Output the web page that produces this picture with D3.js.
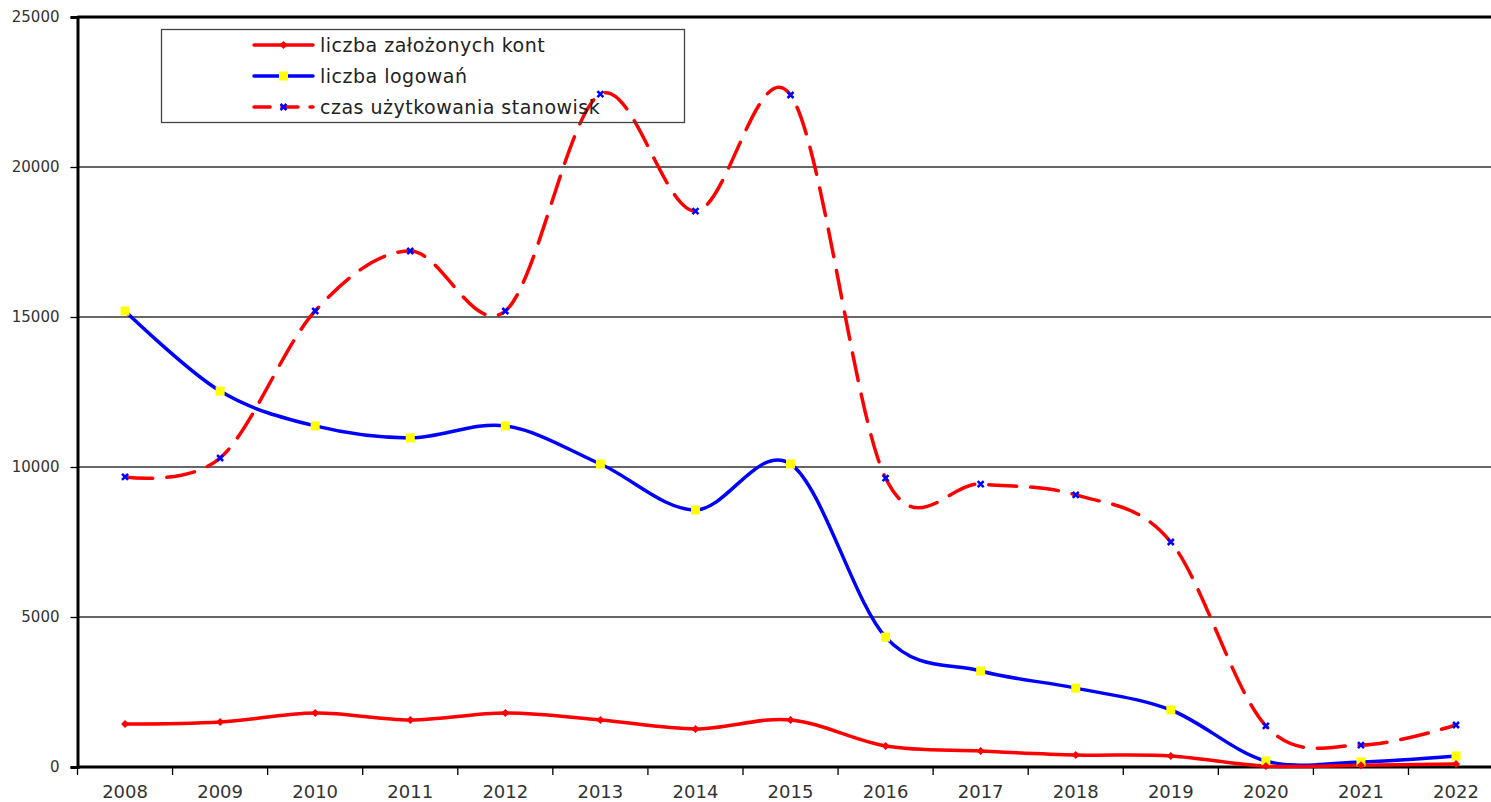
<!DOCTYPE html>
<html>
<head>
<meta charset="utf-8">
<script src="https://cdn.jsdelivr.net/npm/d3@7"></script>
<style>
  body { margin: 0; background: #fff; }
  svg { display: block; }
  .ytick_label { font-family: "DejaVu Sans", Verdana, sans-serif; font-size: 15px; fill: #333; }
  .xtick_label { font-family: "DejaVu Sans", Verdana, sans-serif; font-size: 18px; fill: #333; }
  .legend_label { font-family: "DejaVu Sans", Verdana, sans-serif; font-size: 19px; fill: #222; letter-spacing: 0.5px; }
</style>
</head>
<body>
<svg width="1491" height="802"></svg>
<script>
var years = ["2008", "2009", "2010", "2011", "2012", "2013", "2014", "2015",
	"2016", "2017", "2018", "2019", "2020", "2021", "2022"];

var kontValues = [1430, 1500, 1800, 1570, 1800, 1570, 1270, 1570, 700, 530, 400, 370, 30, 60, 100];
var logowaniaValues = [15200, 12530, 11370, 10970, 11370, 10100, 8570, 10100, 4330, 3200, 2630, 1900, 200, 170, 370];
var czasValues = [9670, 10300, 15200, 17200, 15200, 22430, 18530, 22400, 9630, 9430, 9070, 7500, 1370, 730, 1400];

var yTicks = [0, 5000, 10000, 15000, 20000, 25000];

var seriesNames = ["liczba założonych kont", "liczba logowań", "czas użytkowania stanowisk"];

var svg = d3.select("svg");

var plotLeft = 77.5, plotTop = 17, plotBottom = 767, plotRight = 1491;
var x = d3.scaleBand().domain(years).range([plotLeft, plotLeft + 95.07 * 15]);
var y = d3.scaleLinear().domain([0, 25000]).range([plotBottom, plotTop]);

function cx(d) { return x(d) + x.bandwidth() / 2; }

// gridlines
svg.selectAll(".grid")
	.data(yTicks.filter(function(t) { return t > 0 && t < 25000; }))
	.enter()
	.append("line")
	.attr("class", "grid")
	.attr("x1", plotLeft).attr("x2", plotRight)
	.attr("y1", function(d) { return y(d); })
	.attr("y2", function(d) { return y(d); })
	.style("stroke", "#333")
	.style("stroke-width", 1.3);

// top border of plot area
svg.append("line")
	.attr("x1", plotLeft).attr("x2", plotRight)
	.attr("y1", y(25000)).attr("y2", y(25000))
	.style("stroke", "#000").style("stroke-width", 3);

// y axis
var yAxis = d3.axisLeft(y).tickValues(yTicks).tickSize(7).tickPadding(11).tickFormat(d3.format("d"));
var yg = svg.append("g").attr("transform", "translate(" + plotLeft + ",0)").call(yAxis);
yg.attr("font-family", null).attr("font-size", null);
yg.select(".domain").style("stroke", "#000").style("stroke-width", 3);
yg.selectAll(".tick line").style("stroke", "#000").style("stroke-width", 1.3);
yg.selectAll(".tick text").attr("class", "ytick_label").attr("dy", "0.3em");

// x axis: ticks between categories
var xg = svg.append("g").attr("transform", "translate(0," + plotBottom + ")");
xg.append("line")
	.attr("x1", plotLeft).attr("x2", plotRight)
	.style("stroke", "#000").style("stroke-width", 3);
xg.selectAll(".xtick")
	.data(years)
	.enter()
	.append("line")
	.attr("class", "xtick")
	.attr("x1", function(d) { return x(d); })
	.attr("x2", function(d) { return x(d); })
	.attr("y1", 0).attr("y2", 8)
	.style("stroke", "#000").style("stroke-width", 1.3);
xg.selectAll(".xlabel")
	.data(years)
	.enter()
	.append("text")
	.attr("class", "xtick_label")
	.attr("x", cx)
	.attr("y", 31)
	.attr("text-anchor", "middle")
	.text(function(d) { return d; });

var line = d3.line()
	.x(function(d, i) { return cx(years[i]); })
	.y(function(d) { return y(d); })
	.curve(d3.curveCatmullRom.alpha(0));

function drawSeries(values, color, dash) {
	svg.append("path")
		.datum(values)
		.attr("d", line)
		.style("fill", "none")
		.style("stroke", color)
		.style("stroke-width", 3.5)
		.style("stroke-linecap", "round")
		.style("stroke-dasharray", dash || null);
}

drawSeries(czasValues, "#ff0000", "28,14");
drawSeries(logowaniaValues, "#0000ff");
drawSeries(kontValues, "#ff0000");

function markerDiamond(g, px, py) {
	g.append("path")
		.attr("d", "M" + (px - 4) + "," + py + "L" + px + "," + (py - 4) + "L" + (px + 4) + "," + py + "L" + px + "," + (py + 4) + "Z")
		.style("fill", "#ff0000");
}
function markerSquare(g, px, py) {
	g.append("rect")
		.attr("x", px - 4.5).attr("y", py - 4.5)
		.attr("width", 9).attr("height", 9)
		.style("fill", "#ffff00");
}
function markerX(g, px, py) {
	g.append("path")
		.attr("d", "M" + (px - 3) + "," + (py - 3) + "L" + (px + 3) + "," + (py + 3) + "M" + (px + 3) + "," + (py - 3) + "L" + (px - 3) + "," + (py + 3))
		.style("stroke", "#0000ff").style("stroke-width", 2.5);
}

var markers = svg.append("g");
czasValues.forEach(function(v, i) { markerX(markers, cx(years[i]), y(v)); });
logowaniaValues.forEach(function(v, i) { markerSquare(markers, cx(years[i]), y(v)); });
kontValues.forEach(function(v, i) { markerDiamond(markers, cx(years[i]), y(v)); });

// legend
var legend = svg.append("g");
legend.append("rect")
	.attr("x", 161.5).attr("y", 29.5)
	.attr("width", 523).attr("height", 93)
	.style("fill", "none")
	.style("stroke", "#444").style("stroke-width", 1.3);

var rows = [
	{ name: seriesNames[0], color: "#ff0000", dash: null, marker: markerDiamond },
	{ name: seriesNames[1], color: "#0000ff", dash: null, marker: markerSquare },
	{ name: seriesNames[2], color: "#ff0000", dash: "16,12", marker: markerX }
];

rows.forEach(function(r, i) {
	var ry = 45 + i * 31;
	legend.append("line")
		.attr("x1", 254).attr("x2", 313)
		.attr("y1", ry).attr("y2", ry)
		.style("stroke", r.color)
		.style("stroke-width", 3.5)
		.style("stroke-linecap", "round")
		.style("stroke-dasharray", r.dash);
	r.marker(legend, 283.5, ry);
	legend.append("text")
		.attr("class", "legend_label")
		.attr("x", 320).attr("y", ry)
		.attr("dy", "0.35em")
		.text(r.name);
});
</script>
</body>
</html>
